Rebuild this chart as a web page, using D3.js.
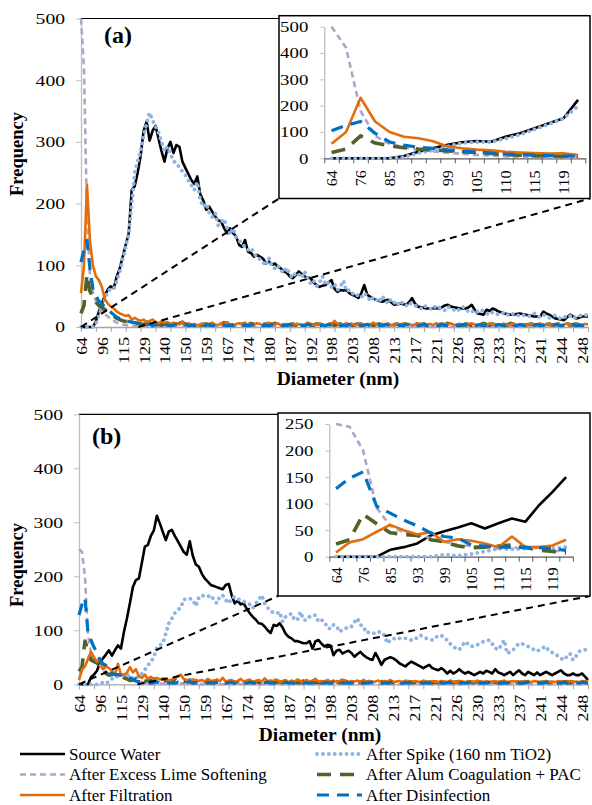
<!DOCTYPE html>
<html>
<head>
<meta charset="utf-8">
<script src="https://cdn.jsdelivr.net/npm/d3@7"></script>
<style>
  body { margin: 0; background: #fff; }
  svg text { font-family: "Liberation Serif", "Tinos", "Times New Roman", "DejaVu Serif", serif; }
</style>
</head>
<body>
<svg id="chart" width="592" height="805"></svg>
<script>
// ---- data (frequency per diameter bin, bins indexed 0..170) ----
var mainTickLabels = ["64","96","115","129","140","150","159","167","174","180","187","192","198",
  "203","208","213","217","221","226","230","233","237","241","244","248"];
var insetTickLabels = ["64","76","85","93","99","105","110","115","119"];
var mainYTicksA = [0,100,200,300,400,500];
var insetYTicksA = [0,100,200,300,400,500];
var mainYTicksB = [0,100,200,300,400,500];
var insetYTicksB = [0,50,100,150,200,250];

var seriesNames = ["Source Water","After Spike (160 nm TiO2)","After Excess Lime Softening",
  "After Alum Coagulation + PAC","After Filtration","After Disinfection"];

var srcA = [
0,0,0,0,0,9,25,38,51,61,
66,63,82,95,114,133,152,222,228,250,
278,318,333,302,318,326,305,285,268,290,
300,282,295,292,268,258,248,238,232,244,
215,205,190,195,187,179,173,171,160,152,
160,152,147,133,130,141,122,120,114,117,
114,111,103,106,101,103,98,95,90,88,
82,79,84,90,86,82,80,79,72,68,
65,67,68,72,76,62,57,60,59,60,
55,52,50,47,55,68,52,49,46,44,
42,41,43,44,40,36,37,38,37,36,
40,47,38,33,32,31,30,30,30,31,
30,32,35,36,33,32,31,30,30,30,
32,36,28,22,21,20,28,26,30,28,
25,24,22,21,20,20,21,22,21,20,
19,18,17,17,17,25,22,20,17,14,
13,12,11,16,20,17,14,15,17,17,
17];
var spikeA = [
0,0,0,0,0,5,20,30,45,58,
62,62,75,90,110,130,152,198,250,268,
285,310,330,347,335,325,315,300,285,292,
280,270,263,260,252,246,238,230,222,235,
205,195,200,185,178,185,165,170,175,160,
150,160,145,140,135,130,125,128,120,112,
110,105,100,112,98,95,100,92,88,96,
85,80,88,85,80,90,78,70,75,66,
72,82,68,72,65,70,60,66,75,58,
60,55,50,52,48,55,50,42,48,45,
40,50,43,38,45,40,35,42,38,34,
40,36,35,32,30,35,32,30,28,35,
32,30,27,33,30,28,25,30,33,28,
25,27,22,25,28,26,22,20,24,22,
20,22,24,20,18,22,20,18,20,18,
17,20,22,18,16,20,18,15,17,19,
15,14,17,15,18,14,16,19,18,19,
20];
var limeA = [
500,420,180,85,55,42,32,26,21,17,
13,10,7,5,4,3,3,2,2,2,
2,1,2,1,1,2,1,1,1,0,
1,1,0,1,0,1,0,0,1,0,
0,1,0,0,1,0,0,0,1,0,
0,0,1,0,0,0,0,1,0,0,
0,0,0,1,0,0,0,0,0,1,
0,0,0,0,1,0,0,0,0,0,
1,0,0,0,0,0,0,1,0,0,
0,0,0,0,1,0,0,0,0,0,
0,1,0,0,0,0,0,0,1,0,
0,0,0,0,0,1,0,0,0,0,
0,0,1,0,0,0,0,0,0,1,
0,0,0,0,0,0,1,0,0,0,
0,0,0,1,0,0,0,0,0,0,
1,0,0,0,0,0,0,0,1,0,
0,0,0,0,1,0,0,0,0,0,
0];
var alumA = [
22,35,85,58,48,40,35,32,28,25,
22,18,14,12,10,9,8,7,6,6,
5,4,6,3,5,7,4,3,6,4,
5,3,4,6,8,4,3,5,4,6,
3,4,5,3,6,4,3,5,7,4,
3,4,6,3,5,4,3,6,4,5,
3,4,5,3,4,6,3,4,5,3,
4,5,3,6,4,3,5,4,3,5,
4,3,6,4,5,3,4,5,3,4,
6,3,4,5,3,4,5,6,3,4,
5,3,4,6,3,4,5,3,4,5,
3,4,6,3,4,5,3,4,5,3,
4,5,3,6,4,3,5,4,3,5,
4,3,5,4,3,6,4,3,5,4,
3,5,4,3,6,4,3,5,4,3,
4,5,3,4,6,3,4,5,3,4,
5,3,4,6,3,4,5,3,4,5,
4];
var filtA = [
55,100,230,140,100,82,76,65,45,38,
33,30,25,22,20,18,19,12,15,12,
10,12,8,10,12,8,6,9,7,8,
5,7,6,4,8,5,6,4,5,3,
4,6,3,5,7,4,3,6,5,8,
4,3,5,6,4,7,3,5,4,6,
5,3,4,7,5,4,6,3,5,4,
3,6,4,5,3,4,7,5,3,4,
6,4,3,5,4,10,5,3,4,6,
4,5,3,4,6,3,5,4,7,4,
3,5,4,6,3,4,5,3,6,4,
5,3,4,6,5,3,4,5,3,6,
4,3,5,4,6,3,4,5,4,3,
5,6,4,3,5,4,3,6,4,5,
3,4,5,3,4,6,3,4,5,3,
4,5,3,4,6,3,4,5,3,4,
5,3,4,6,3,4,5,3,4,5,
4];
var disA = [
105,125,140,95,62,50,42,38,32,28,
24,20,16,14,12,10,9,8,7,6,
5,4,3,5,2,4,3,2,4,3,
2,3,4,2,3,5,2,3,2,4,
3,2,3,4,2,3,2,4,3,2,
3,2,4,3,2,3,2,3,4,2,
3,2,3,2,4,3,2,3,2,3,
4,2,3,2,3,2,4,3,2,3,
2,3,2,4,3,2,3,2,3,2,
4,3,2,3,2,3,4,2,3,2,
3,2,4,3,2,3,2,3,2,4,
3,2,3,2,3,4,2,3,2,3,
2,4,3,2,3,2,3,2,4,3,
2,3,2,3,4,2,3,2,3,2,
4,3,2,3,2,3,2,4,3,2,
3,2,3,4,2,3,2,3,2,4,
3,2,3,2,3,4,2,3,2,3,
2];

var srcB = [
0,0,0,0,13,18,25,40,48,55,
63,53,63,72,66,97,122,150,180,193,
196,225,255,258,275,285,312,298,282,267,
283,286,275,265,255,245,240,265,238,222,
218,205,196,190,184,182,180,178,176,184,
186,165,150,155,148,150,140,132,125,120,
113,112,107,100,95,110,108,113,105,94,
88,85,80,80,78,76,76,80,66,80,
82,75,70,73,72,54,62,64,57,60,
62,58,51,56,60,54,50,47,45,58,
48,36,45,48,50,48,44,39,36,33,
38,42,39,36,33,30,33,36,30,28,
26,30,26,20,25,20,23,28,23,20,
23,20,17,20,23,20,25,23,20,28,
22,20,17,20,23,17,22,26,20,17,
23,20,17,22,17,20,23,20,17,20,
23,26,20,17,17,20,17,17,20,14,
8];
var spikeB = [
0,0,0,0,0,0,0,0,4,2,
5,10,15,14,15,18,16,18,10,12,
14,20,27,35,42,50,68,72,76,94,
113,122,132,138,142,157,158,159,157,145,
160,165,163,162,165,157,150,162,165,156,
150,159,162,158,156,154,150,148,141,150,
156,165,150,142,135,133,131,134,116,125,
128,131,119,120,134,119,119,125,128,128,
116,119,116,104,103,110,108,97,101,103,
107,107,115,122,110,107,95,97,95,94,
97,97,90,76,82,85,83,85,86,85,
84,82,82,87,91,88,85,83,82,86,
90,91,85,82,75,70,66,64,72,79,
74,70,72,73,76,79,80,82,75,67,
64,72,82,57,60,64,70,76,75,73,
70,67,64,61,65,68,70,61,59,57,
52,48,45,52,57,45,52,61,62,64,
65];
var limeB = [
250,245,200,92,58,46,40,35,28,22,
20,18,15,18,15,18,10,12,8,6,
5,4,3,3,2,2,3,2,1,2,
1,2,1,1,2,1,0,1,1,0,
1,0,1,0,0,1,0,1,0,0,
0,1,0,0,0,1,0,0,1,0,
0,0,1,0,0,0,0,1,0,0,
1,0,0,0,0,1,0,0,0,0,
0,1,0,0,0,0,1,0,0,0,
0,0,0,1,0,0,0,0,1,0,
0,0,0,0,0,1,0,0,0,0,
1,0,0,0,0,0,0,1,0,0,
0,0,0,0,1,0,0,0,0,0,
0,1,0,0,0,0,0,0,1,0,
0,0,0,0,0,1,0,0,0,0,
0,0,1,0,0,0,0,0,0,1,
0,0,0,0,0,0,1,0,0,0,
0];
var alumB = [
24,32,80,62,45,42,40,32,28,20,
17,18,20,22,18,12,10,7,8,10,
7,9,5,8,6,10,5,7,4,8,
6,5,9,4,7,5,6,8,4,5,
7,4,6,5,3,6,4,5,7,3,
4,6,3,5,4,3,6,4,3,5,
4,3,5,4,6,3,4,5,3,4,
3,5,4,3,4,6,3,4,5,3,
4,3,5,4,3,4,5,3,4,6,
3,4,3,5,4,3,4,5,3,4,
3,5,4,3,4,3,5,4,3,4,
5,3,4,3,4,5,3,4,3,4,
3,4,5,3,4,3,4,5,3,4,
3,4,3,5,4,3,4,3,5,4,
3,4,3,4,5,3,4,3,4,3,
5,4,3,4,3,4,5,3,4,3,
4,3,4,5,3,4,3,4,3,5,
4];
var filtB = [
8,27,33,47,60,50,42,46,28,33,
30,25,18,38,18,18,21,32,22,28,
15,12,18,10,14,8,12,9,11,10,
7,9,12,15,18,10,8,7,9,8,
6,8,5,10,7,4,9,6,12,5,
7,8,4,6,10,5,7,9,4,6,
8,5,11,6,4,7,9,5,6,8,
4,7,5,9,6,4,8,5,7,10,
5,6,4,8,5,7,4,6,9,5,
4,6,5,7,4,8,5,6,4,5,
7,4,6,5,8,4,5,6,4,7,
5,4,6,5,4,7,5,4,6,5,
4,6,5,4,7,5,4,6,5,4,
6,5,4,7,5,4,6,4,5,6,
4,5,7,4,5,6,4,5,4,6,
5,4,6,5,4,5,6,4,5,4,
6,5,4,5,6,4,5,4,6,5,
6];
var disB = [
128,148,160,95,82,69,58,45,38,35,
22,20,18,18,17,17,15,12,8,6,
5,4,3,4,2,3,5,2,3,4,
2,3,2,4,3,2,3,5,2,3,
2,4,3,2,3,2,4,2,3,2,
3,4,2,3,2,3,2,4,3,2,
3,2,3,4,2,3,2,3,2,4,
2,3,2,3,4,2,3,2,3,2,
4,3,2,3,2,4,3,2,3,2,
3,2,4,3,2,3,2,3,4,2,
3,2,3,2,4,3,2,3,2,3,
2,4,3,2,3,2,3,2,4,3,
2,3,2,3,4,2,3,2,3,2,
3,4,2,3,2,3,2,4,3,2,
3,2,3,2,4,3,2,3,2,3,
4,2,3,2,3,2,4,3,2,3,
2,3,4,2,3,2,3,2,4,3,
2];

var panelA = [srcA, spikeA, limeA, alumA, filtA, disA];
var panelB = [srcB, spikeB, limeB, alumB, filtB, disB];

// ---- styles ----
var FONT = "Liberation Serif, Tinos, Times New Roman, DejaVu Serif, serif";
var styles = [
  {color: "#000000", width: 2.6, dash: null},
  {color: "#8DB4E2", width: 3.8, dash: "0.1 5.8", cap: "round"},
  {color: "#B3A2C7", width: 2.6, dash: "6 4"},
  {color: "#4F6228", width: 3.6, dash: "14 9"},
  {color: "#E46C0A", width: 2.6, dash: null},
  {color: "#0070C0", width: 3.2, dash: "12 8"}
];

var nPts = srcA.length;
var insetN = 18;
var svg = d3.select("#chart");

function styleLine(sel, s) {
  sel.attr("fill", "none")
    .attr("stroke", s.color)
    .attr("stroke-width", s.width)
    .attr("stroke-dasharray", s.dash)
    .attr("stroke-linecap", s.cap || "butt")
    .attr("stroke-linejoin", "round");
}

// tick digits in the original are drawn wide, so stretch them a little
function tickText(sel, size, perChar) {
  sel.attr("font-family", FONT).attr("font-size", size).attr("fill", "#000")
    .attr("lengthAdjust", "spacingAndGlyphs")
    .attr("textLength", function() { return this.textContent.length * perChar; });
}

function drawPanel(series, L, I, yTicks, iyTicks) {
  var g = svg.append("g");
  var x = d3.scaleLinear().domain([0, nPts - 1]).range([L.left, L.right]);
  var y = d3.scaleLinear().domain([0, 500]).range([L.bottom, L.top]);

  // top border of plot area
  g.append("line").attr("x1", L.left).attr("x2", L.right)
    .attr("y1", L.top).attr("y2", L.top).attr("stroke", "#000").attr("stroke-width", 1.2);

  var ya = g.append("g").attr("transform", "translate(" + L.left + ",0)")
    .call(d3.axisLeft(y).tickValues(yTicks).tickSize(5).tickSizeOuter(0).tickPadding(11));
  ya.attr("font-family", FONT);
  ya.select(".domain").attr("stroke", "#BFBFBF").attr("stroke-width", 1.3);
  ya.selectAll(".tick line").attr("stroke", "#BFBFBF");
  ya.selectAll("text").call(tickText, 15.5, 9.8);

  var xt = g.append("g").attr("transform", "translate(0," + L.bottom + ")")
    .call(d3.axisBottom(x).tickValues(d3.range(0, nPts, 5)).tickSize(5).tickSizeOuter(0).tickFormat(""));
  xt.select(".domain").attr("stroke", "#A6A6A6").attr("stroke-width", 1.3);
  xt.selectAll(".tick line").attr("stroke", "#A6A6A6");

  var xl = g.append("g").attr("transform", "translate(0," + L.bottom + ")")
    .call(d3.axisBottom(x).tickValues(d3.range(0, nPts, 7)).tickSize(0)
      .tickFormat(function(d) { return mainTickLabels[d / 7]; }));
  xl.attr("font-family", FONT);
  xl.select(".domain").remove();
  xl.selectAll("text").attr("transform", "rotate(-90)").attr("text-anchor", "end")
    .attr("x", -L.labelGap).attr("y", 0).attr("dy", "0.35em")
    .call(tickText, 15.5, 8.9);

  var line = d3.line().x(function(d, i) { return x(i); }).y(function(d) { return y(d); });
  series.forEach(function(s, k) {
    g.append("path").datum(s).attr("d", line).call(styleLine, styles[k]);
  });

  // zoom connector lines
  var by = I.fy + I.fh;
  [[x(0), I.fx], [x(L.zoomEnd), I.fx + I.fw]].forEach(function(p) {
    g.append("line").attr("x1", p[0]).attr("y1", L.bottom).attr("x2", p[1]).attr("y2", by)
      .attr("stroke", "#000").attr("stroke-width", 2).attr("stroke-dasharray", "7 5");
  });

  // inset
  var ig = g.append("g");
  ig.append("rect").attr("x", I.fx).attr("y", I.fy).attr("width", I.fw).attr("height", I.fh)
    .attr("fill", "#fff").attr("stroke", "#000").attr("stroke-width", 1.5);
  var bx = d3.scaleBand().domain(d3.range(insetN)).range([I.left, I.left + insetN * I.band]);
  var bl = d3.scaleLinear().domain([0, insetN]).range([I.left, I.left + insetN * I.band]);
  var iy = d3.scaleLinear().domain([0, I.yMax]).range([I.bottom, I.top]);

  var iya = ig.append("g").attr("transform", "translate(" + I.left + ",0)")
    .call(d3.axisLeft(iy).tickValues(iyTicks).tickSize(4).tickSizeOuter(0).tickPadding(12));
  iya.attr("font-family", FONT);
  iya.select(".domain").attr("stroke", "#BFBFBF").attr("stroke-width", 1.3);
  iya.selectAll(".tick line").attr("stroke", "#BFBFBF");
  iya.selectAll("text").call(tickText, 15.5, 9.4);

  var ixt = ig.append("g").attr("transform", "translate(0," + I.bottom + ")")
    .call(d3.axisBottom(bl).tickValues(d3.range(0, insetN + 1)).tickSize(5).tickSizeOuter(0).tickFormat(""));
  ixt.select(".domain").attr("stroke", "#595959").attr("stroke-width", 1.3);
  ixt.selectAll(".tick line").attr("stroke", "#595959");

  var ixl = ig.append("g").attr("transform", "translate(0," + I.bottom + ")")
    .call(d3.axisBottom(bx).tickValues(d3.range(0, insetN, 2)).tickSize(0)
      .tickFormat(function(d) { return insetTickLabels[d / 2]; }));
  ixl.attr("font-family", FONT);
  ixl.select(".domain").remove();
  ixl.selectAll("text").attr("transform", "rotate(-90)").attr("text-anchor", "end")
    .attr("x", -I.labelGap).attr("y", 0).attr("dy", "0.35em")
    .call(tickText, 15.5, 8);

  var iline = d3.line()
    .x(function(d, i) { return bx(i) + bx.bandwidth() / 2; })
    .y(function(d) { return iy(d); });
  series.forEach(function(s, k) {
    ig.append("path").datum(s.slice(0, insetN)).attr("d", iline).call(styleLine, styles[k]);
  });

  // panel letter and axis titles
  g.append("text").attr("x", L.letterX).attr("y", L.letterY).text(L.letter)
    .attr("font-family", FONT).attr("font-size", 24).attr("font-weight", "bold");
  g.append("text").attr("transform", "translate(" + 23 + "," + L.freqY + ") rotate(-90)")
    .attr("text-anchor", "middle").text("Frequency")
    .attr("font-family", FONT).attr("font-size", 18.5).attr("font-weight", "bold");
  g.append("text").attr("x", L.diamX).attr("y", L.diamY).attr("text-anchor", "middle")
    .text("Diameter (nm)")
    .attr("font-family", FONT).attr("font-size", 19.5).attr("font-weight", "bold");
}

drawPanel(panelA,
  {left: 81, right: 588, top: 18.5, bottom: 327, labelGap: 10, zoomEnd: 19.2,
   letter: "(a)", letterX: 104, letterY: 43, freqY: 154, diamX: 338, diamY: 385},
  {fx: 279, fy: 15.7, fw: 311, fh: 182.8, left: 324.3, band: 14.5, top: 26.7, bottom: 158.3,
   yMax: 500, labelGap: 12},
  mainYTicksA, insetYTicksA);

drawPanel(panelB,
  {left: 79, right: 588, top: 414.3, bottom: 684.3, labelGap: 10.5, zoomEnd: 19.5,
   letter: "(b)", letterX: 92, letterY: 444, freqY: 565, diamX: 320, diamY: 741},
  {fx: 278, fy: 413, fw: 312, fh: 183, left: 329.3, band: 13.53, top: 424, bottom: 556.7,
   yMax: 250, labelGap: 10.5},
  mainYTicksB, insetYTicksB);

// ---- legend ----
var legend = svg.append("g");
seriesNames.forEach(function(name, k) {
  var col = k % 2, row = Math.floor(k / 2);
  var lx = col === 0 ? 20 : 317;
  var ly = 754 + row * 20.5;
  legend.append("line").attr("x1", lx).attr("x2", lx + 45).attr("y1", ly).attr("y2", ly)
    .call(styleLine, styles[k]);
  legend.append("text").attr("x", lx + 49).attr("y", ly + 5.5).text(name)
    .attr("font-family", FONT).attr("font-size", 17);
});
</script>
</body>
</html>
